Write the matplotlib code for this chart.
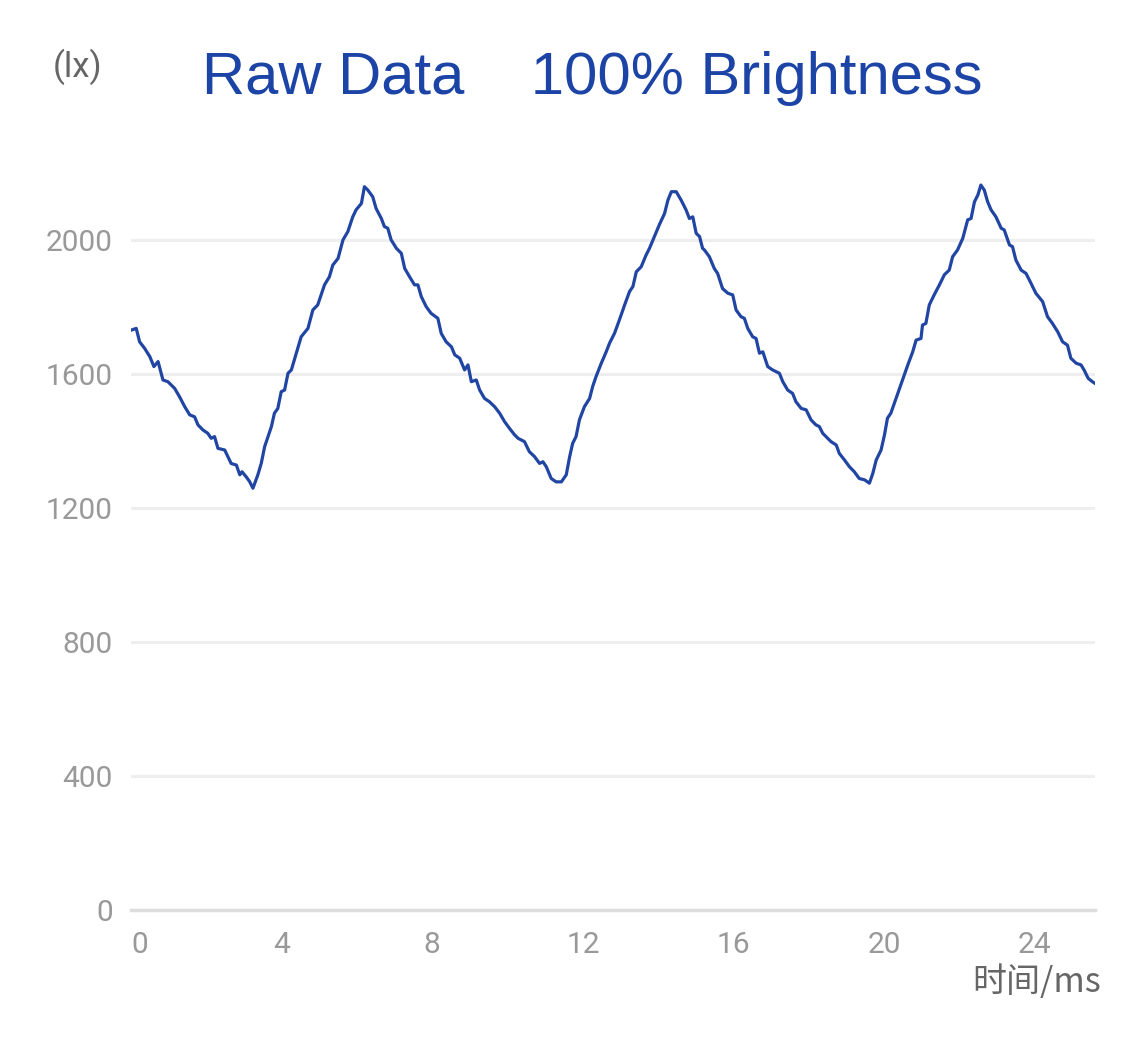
import matplotlib.pyplot as plt

# time (ms) and illuminance (lx)
t_ms = [0.01, 0.14, 0.23, 0.36, 0.5, 0.61, 0.72, 0.85, 0.98, 1.16, 1.29, 1.43, 1.56, 1.69,
        1.78, 1.91, 2.04, 2.13, 2.22, 2.31, 2.49, 2.66, 2.8, 2.89, 2.95, 3.06, 3.15, 3.24,
        3.37, 3.46, 3.55, 3.64, 3.73, 3.81, 3.9, 3.99, 4.08, 4.17, 4.26, 4.39, 4.52, 4.7,
        4.83, 4.96, 5.14, 5.27, 5.36, 5.5, 5.63, 5.76, 5.89, 5.98, 6.12, 6.2, 6.29, 6.42,
        6.51, 6.65, 6.73, 6.82, 6.91, 7.05, 7.18, 7.27, 7.4, 7.53, 7.62, 7.71, 7.84, 7.97,
        8.15, 8.24, 8.37, 8.51, 8.6, 8.73, 8.86, 8.95, 9.04, 9.17, 9.26, 9.39, 9.52, 9.66,
        9.79, 9.92, 10.05, 10.19, 10.28, 10.45, 10.58, 10.72, 10.85, 10.94, 11.03, 11.16,
        11.29, 11.43, 11.56, 11.65, 11.73, 11.82, 11.91, 12.04, 12.18, 12.26, 12.35, 12.49,
        12.62, 12.71, 12.84, 12.97, 13.11, 13.24, 13.33, 13.42, 13.55, 13.68, 13.77, 13.9,
        14.03, 14.17, 14.26, 14.35, 14.48, 14.61, 14.74, 14.83, 14.92, 15.01, 15.1, 15.18,
        15.23, 15.36, 15.49, 15.58, 15.71, 15.85, 15.98, 16.07, 16.2, 16.29, 16.38, 16.51,
        16.6, 16.69, 16.78, 16.91, 17.04, 17.22, 17.31, 17.44, 17.57, 17.66, 17.8, 17.93,
        18.06, 18.19, 18.28, 18.37, 18.5, 18.59, 18.73, 18.81, 18.95, 19.08, 19.21, 19.34,
        19.48, 19.61, 19.7, 19.79, 19.92, 20.01, 20.09, 20.18, 20.27, 20.36, 20.49, 20.63,
        20.76, 20.85, 20.98, 21.02, 21.11, 21.2, 21.33, 21.47, 21.6, 21.73, 21.82, 21.95,
        22.09, 22.22, 22.31, 22.4, 22.49, 22.57, 22.66, 22.75, 22.84, 22.97, 23.11, 23.19,
        23.33, 23.41, 23.5, 23.64, 23.77, 23.9, 24.03, 24.21, 24.34, 24.47, 24.61, 24.74,
        24.87, 24.96, 25.1, 25.23, 25.31, 25.42, 25.53, 25.6]
lux = [1731, 1736, 1696, 1677, 1652, 1622, 1637, 1582, 1577, 1557, 1532, 1502, 1478, 1472,
       1448, 1433, 1423, 1408, 1413, 1378, 1373, 1333, 1328, 1299, 1308, 1293, 1279, 1259,
       1299, 1333, 1383, 1413, 1443, 1483, 1497, 1547, 1552, 1602, 1612, 1662, 1711, 1736,
       1791, 1806, 1866, 1890, 1925, 1945, 2000, 2025, 2069, 2090, 2109, 2159, 2149, 2129,
       2094, 2064, 2040, 2035, 2000, 1975, 1960, 1915, 1890, 1866, 1866, 1831, 1801, 1781,
       1766, 1721, 1696, 1681, 1657, 1647, 1612, 1627, 1577, 1582, 1552, 1527, 1517, 1502,
       1483, 1458, 1438, 1418, 1408, 1398, 1368, 1353, 1333, 1338, 1323, 1288,
       1278, 1278, 1299, 1353, 1393, 1413, 1463, 1502, 1527, 1562, 1592, 1632,
       1666, 1692, 1721, 1761, 1806, 1846, 1861, 1905, 1920, 1955, 1975, 2010,
       2045, 2079, 2119, 2144, 2144, 2119, 2090, 2064, 2069, 2020, 2010, 1975,
       1970, 1950, 1915, 1900, 1855, 1841, 1836, 1791, 1771, 1766, 1736, 1711,
       1706, 1662, 1666, 1622, 1612, 1602, 1577, 1552, 1542, 1517, 1497, 1493,
       1463, 1448, 1443, 1423, 1408, 1398, 1388, 1363, 1343, 1323, 1308, 1288,
       1284, 1274, 1303, 1343, 1373, 1418, 1468, 1483, 1512, 1542, 1582, 1627,
       1666, 1701, 1706, 1746, 1751, 1806, 1836, 1866, 1896, 1910, 1950, 1970,
       2005, 2060, 2064, 2114, 2134, 2164, 2149, 2114, 2090, 2069, 2035, 2030,
       1985, 1980, 1940, 1910, 1900, 1871, 1841, 1816, 1771, 1751, 1726, 1696,
       1686, 1647, 1632, 1627, 1612, 1587, 1577, 1572]

x_ticks = [0, 4, 8, 12, 16, 20, 24]
y_ticks = [0, 400, 800, 1200, 1600, 2000]

blue = '#2145a3'

fig = plt.figure(figsize=(11.25, 10.4), dpi=100)
ax = fig.add_axes([0.1164, 0.125, 0.8569, 0.7087])

ax.plot(t_ms, lux, color=blue, linewidth=2.3, zorder=3)

ax.set_xlim(0, 25.6)
ax.set_ylim(0, 2200)
ax.set_xticks(x_ticks)
ax.set_yticks(y_ticks)

for s in ['top', 'right', 'left']:
    ax.spines[s].set_visible(False)
ax.spines['bottom'].set_color('#dddddd')
ax.spines['bottom'].set_linewidth(2.5)

ax.grid(axis='y', color='#eeeeee', linewidth=2.2)
ax.set_axisbelow(True)

ax.tick_params(axis='both', length=0, labelsize=21.5, labelcolor='#999999')
ax.tick_params(axis='x', pad=15)
ax.tick_params(axis='y', pad=13)
for lab in ax.get_xticklabels() + ax.get_yticklabels():
    lab.set_fontfamily('Roboto')
ax.get_xticklabels()[0].set_horizontalalignment('left')

fig.text(0.5262, 0.925, 'Raw Data    100% Brightness', color='#1c44a6',
         fontsize=43, family='Liberation Sans', ha='center', va='center')
fig.text(0.0693, 0.936, '(lx)', color='#666666', fontsize=25,
         family='Roboto', ha='center', va='center')
fig.text(0.979, 0.0555, '时间/ms', color='#666666', fontsize=24.5,
         family=['Noto Sans CJK SC', 'DejaVu Sans'], ha='right', va='center')

plt.savefig('out.png', dpi=100)
